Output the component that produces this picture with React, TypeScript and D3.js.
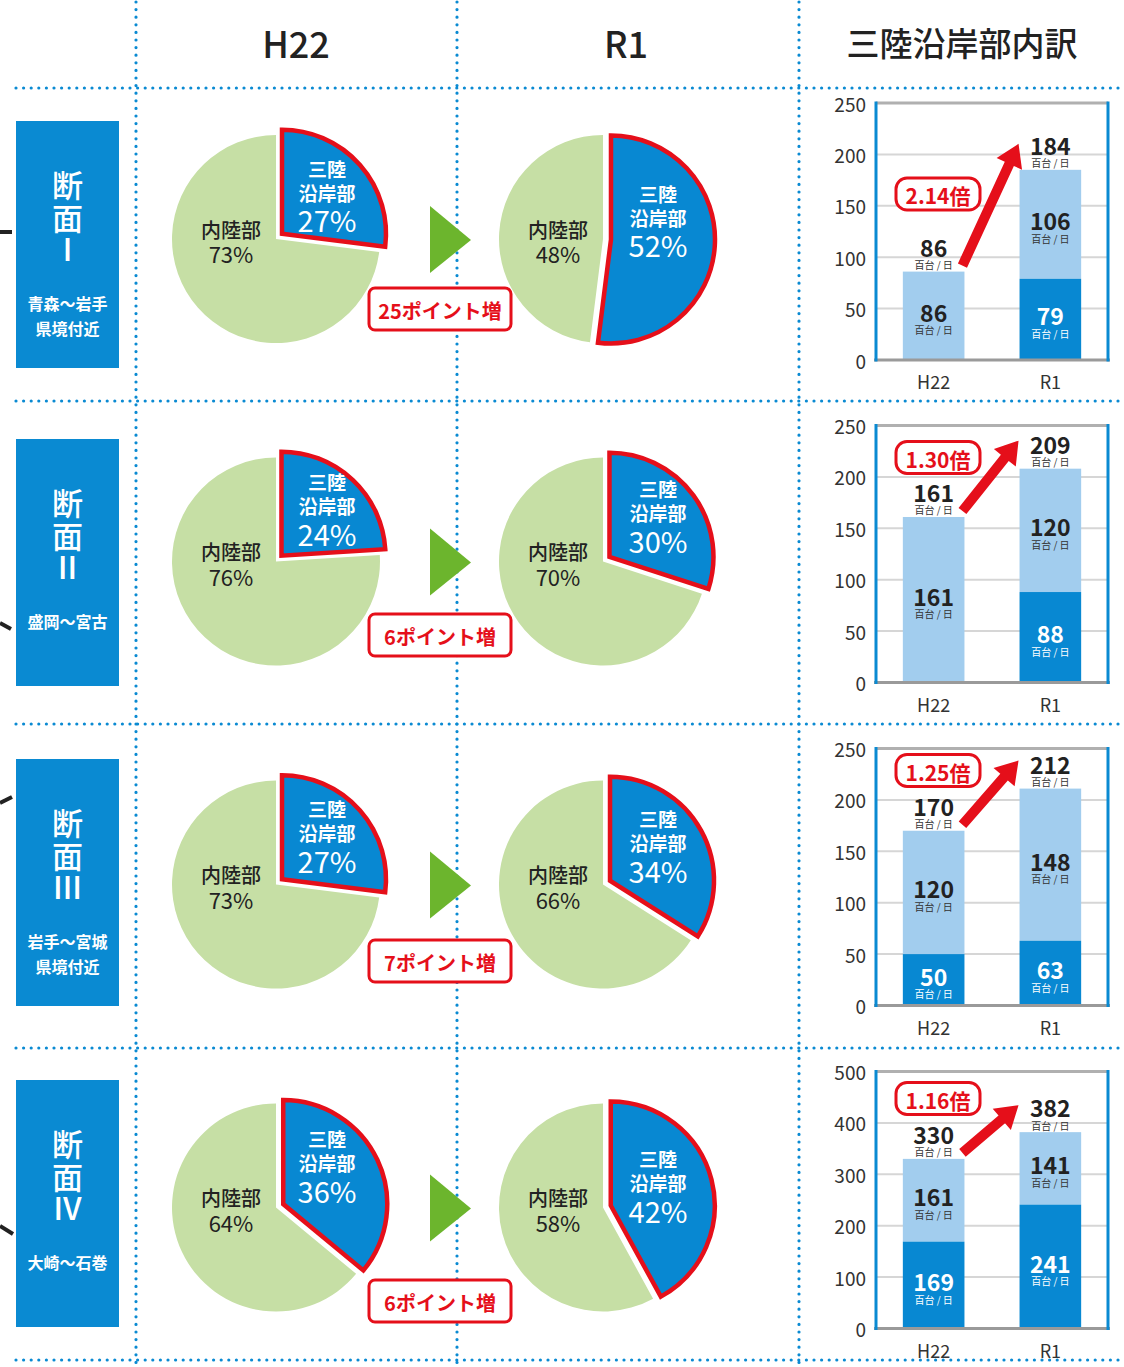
import React from "react";
import * as d3 from "d3";

// ---- data ----
const sectionNumerals = ["Ⅰ", "Ⅱ", "Ⅲ", "Ⅳ"];
const sectionAreas = [["青森～岩手", "県境付近"], ["盛岡～宮古"], ["岩手～宮城", "県境付近"], ["大崎～石巻"]];
const headerLabels = ["H22", "R1", "三陸沿岸部内訳"];
const coastalH22 = [27, 24, 27, 36];
const coastalR1 = [52, 30, 34, 42];
const pointIncrease = [25, 6, 7, 6];
const barCategories = ["H22", "R1"];
const newH22 = [0, 0, 50, 169];
const existH22 = [86, 161, 120, 161];
const newR1 = [79, 88, 63, 241];
const existR1 = [106, 120, 148, 141];
const totalH22 = [86, 161, 170, 330];
const totalR1 = [184, 209, 212, 382];
const ratioLabels = ["2.14", "1.30", "1.25", "1.16"];
const yMaxes = [250, 250, 250, 500];
const yTickSteps = [50, 50, 50, 100];

// ---- layout ----
const W = 1124, H = 1367;
const BLUE = "#0a8ad2";
const LIGHT = "#a2cdee";
const DARK = "#0888d2";
const GREEN_PIE = "#c6dfa5";
const RED = "#e50f1a";
const FONT = "'Noto Sans CJK JP', 'Noto Sans', sans-serif";
const rowOff = [0, 322.5, 645.5, 968.5];
const dividerY = [88, 401, 724, 1048, 1360];
const colX = [136, 457, 799];
const leftRectTop = [121, 439, 759, 1080];
const pointBoxY = [309, 635, 961, 1301];
const ratioBoxDy = [91, 32, 22, 27];
const blueLabelDyH22 = [-71, -80, -76, -69];
const blueLabelDyR1 = [-46, -73, -66, -49];
const leftTicks = [[0, 232, 12, 232], [0, 623, 11, 629], [0, 803, 12, 797], [0, 1226, 13, 1234]];

const R = 104;
const EXPLODE = 8;

function Pie({ cx, cy, coastal, labelDy, labelDx }) {
  const pie = d3.pie<number>().sort(null).value((d) => d);
  const arcs = pie([coastal, 100 - coastal]);
  const arc = d3.arc<any>().innerRadius(0).outerRadius(R);
  const c = arcs[0];
  const mid = (c.startAngle + c.endAngle) / 2;
  const ox = EXPLODE * Math.sin(mid);
  const oy = -EXPLODE * Math.cos(mid);
  return (
    <g>
      <path d={arc(arcs[1]) as string} transform={`translate(${cx},${cy})`} fill={GREEN_PIE} />
      <path d={arc(c) as string} transform={`translate(${cx + ox},${cy + oy})`} fill={DARK} stroke={RED} strokeWidth={4.5} strokeLinejoin="miter" />
      <g fontFamily={FONT} textAnchor="middle" fill="#fff">
        <text x={cx + labelDx} y={cy + labelDy} fontSize={19} fontWeight={700} dominantBaseline="central">三陸</text>
        <text x={cx + labelDx} y={cy + labelDy + 24} fontSize={19} fontWeight={700} dominantBaseline="central">沿岸部</text>
        <text x={cx + labelDx} y={cy + labelDy + 51} fontSize={29} fontWeight={400} dominantBaseline="central">{coastal}%</text>
      </g>
      <g fontFamily={FONT} textAnchor="middle" fill="#222">
        <text x={cx - 45} y={cy - 10} fontSize={20} fontWeight={500} dominantBaseline="central">内陸部</text>
        <text x={cx - 45} y={cy + 14} fontSize={22} fontWeight={400} dominantBaseline="central">{100 - coastal}%</text>
      </g>
    </g>
  );
}

function Arrow({ x1, y1, x2, y2 }) {
  const dx = x2 - x1, dy = y2 - y1;
  const L = Math.hypot(dx, dy);
  const ux = dx / L, uy = dy / L;
  const nx = -uy, ny = ux;
  const sw = 5, hl = 22, hw = 14;
  const bx = x2 - ux * hl, by = y2 - uy * hl;
  const pts = [
    [x1 + nx * sw, y1 + ny * sw],
    [bx + nx * sw, by + ny * sw],
    [bx + nx * hw, by + ny * hw],
    [x2, y2],
    [bx - nx * hw, by - ny * hw],
    [bx - nx * sw, by - ny * sw],
    [x1 - nx * sw, y1 - ny * sw],
  ];
  return <polygon points={pts.map((p) => p.join(",")).join(" ")} fill={RED} />;
}

function SegLabel({ x, y, value, dark }) {
  const col = dark ? "#fff" : "#222";
  return (
    <text fontFamily={FONT} textAnchor="middle" fill={col} dominantBaseline="central">
      <tspan x={x} y={y - 4} fontSize={23} fontWeight={700}>{value}</tspan>
      <tspan x={x} y={y + 13.5} fontSize={10} fontWeight={400} fill={dark ? "#fff" : "#333"}>百台 / 日</tspan>
    </text>
  );
}

function BarChart({ i }) {
  const base = 360 + rowOff[i];
  const y = d3.scaleLinear().domain([0, yMaxes[i]]).range([base, base - 257]);
  const x = d3.scaleBand().domain(barCategories).range([876, 1108]).paddingInner(0.472).paddingOuter(0.23);
  const ticks = d3.range(0, yMaxes[i] + 1, yTickSteps[i]);
  const bw = x.bandwidth();
  const stacks = [
    { cat: "H22", dark: newH22[i], light: existH22[i], total: totalH22[i] },
    { cat: "R1", dark: newR1[i], light: existR1[i], total: totalR1[i] },
  ];
  const top = y(yMaxes[i]);
  const xH = x("H22")!, xR = x("R1")!;
  const yTopH = y(totalH22[i]);
  const yTopR = y(totalR1[i]);
  return (
    <g>
      {ticks.slice(1, -1).map((t) => (
        <line key={t} x1={876} x2={1108} y1={y(t)} y2={y(t)} stroke="#d6d6d6" strokeWidth={2} />
      ))}
      <line x1={876} x2={1108} y1={top} y2={top} stroke="#b0b0b0" strokeWidth={3} />
      {ticks.map((t) => (
        <text key={t} x={866} y={y(t)} textAnchor="end" dominantBaseline="central" fontFamily={FONT} fontSize={19} fill="#333">{t}</text>
      ))}
      {stacks.map((s) => {
        const x0 = x(s.cat)!;
        return (
          <g key={s.cat}>
            <rect x={x0} width={bw} y={y(s.dark + s.light)} height={y(s.dark) - y(s.dark + s.light)} fill={LIGHT} />
            {s.dark > 0 && <rect x={x0} width={bw} y={y(s.dark)} height={y(0) - y(s.dark)} fill={DARK} />}
          </g>
        );
      })}
      <line x1={874} x2={1110} y1={base} y2={base} stroke="#9a9a9a" strokeWidth={3} />
      <line x1={876} x2={876} y1={top - 1.5} y2={base + 1.5} stroke={BLUE} strokeWidth={3} />
      <line x1={1108} x2={1108} y1={top - 1.5} y2={base + 1.5} stroke={BLUE} strokeWidth={3} />
      {stacks.map((s) => {
        const cx = x(s.cat)! + bw / 2;
        return (
          <g key={s.cat + "l"}>
            {s.dark > 0 && <SegLabel x={cx} y={(y(0) + y(s.dark)) / 2} value={s.dark} dark />}
            <SegLabel x={cx} y={(y(s.dark) + y(s.dark + s.light)) / 2} value={s.light} dark={false} />
            <SegLabel x={cx} y={y(s.dark + s.light) - 21} value={s.total} dark={false} />
          </g>
        );
      })}
      {barCategories.map((c) => (
        <text key={c} x={x(c)! + bw / 2} y={base + 21} textAnchor="middle" dominantBaseline="central" fontFamily={FONT} fontSize={18} fill="#333">{c}</text>
      ))}
      <Arrow x1={xH + bw - 2} y1={yTopH - 6} x2={xR - 1} y2={yTopR - 27} />
      <g>
        <rect x={938 - 42} y={top + ratioBoxDy[i] - 16} width={84} height={32} rx={11} fill="#fff" stroke={RED} strokeWidth={3} />
        <text x={938} y={top + ratioBoxDy[i] + 1} textAnchor="middle" dominantBaseline="central" fontFamily={FONT} fontSize={21} fontWeight={700} fill={RED}>{ratioLabels[i]}倍</text>
      </g>
    </g>
  );
}

export default function App() {
  return (
    <svg width={W} height={H} viewBox={`0 0 ${W} ${H}`} style={{ position: "absolute", left: 0, top: 0, display: "block", background: "#fff" }}>
      <rect width={W} height={H} fill="#fff" />
      {/* grid dotted lines */}
      <g stroke={BLUE} strokeWidth={3.2} strokeLinecap="round" strokeDasharray="0 7.6">
        {dividerY.map((yy) => (
          <line key={yy} x1={16} x2={W} y1={yy} y2={yy} />
        ))}
        {colX.map((xx) => (
          <line key={xx} x1={xx} x2={xx} y1={2} y2={H} />
        ))}
      </g>
      {/* headers */}
      <g fontFamily={FONT} textAnchor="middle" fill="#222" dominantBaseline="central">
        <text x={296} y={42} fontSize={36} fontWeight={500}>{headerLabels[0]}</text>
        <text x={626} y={42} fontSize={36} fontWeight={500}>{headerLabels[1]}</text>
        <text x={962} y={42} fontSize={33} fontWeight={500}>{headerLabels[2]}</text>
      </g>
      {/* left ticks */}
      {leftTicks.map((t, i) => (
        <line key={i} x1={t[0]} y1={t[1]} x2={t[2]} y2={t[3]} stroke="#222" strokeWidth={4} />
      ))}
      {sectionNumerals.map((num, i) => {
        const top = leftRectTop[i];
        const cyp = 239 + rowOff[i];
        return (
          <g key={i}>
            {/* left label */}
            <rect x={16} y={top} width={103} height={247} fill={BLUE} />
            <g fontFamily={FONT} textAnchor="middle" fill="#fff" dominantBaseline="central">
              <text x={67.5} y={top + 62} fontSize={31} fontWeight={500}>断</text>
              <text x={67.5} y={top + 95} fontSize={31} fontWeight={500}>面</text>
              <text x={67.5} y={top + 126} fontSize={31} fontWeight={500}>{num}</text>
              {sectionAreas[i].map((s, j) => (
                <text key={j} x={67.5} y={top + 182 + j * 25} fontSize={16} fontWeight={700}>{s}</text>
              ))}
            </g>
            {/* pies */}
            <Pie cx={276} cy={cyp} coastal={coastalH22[i]} labelDy={blueLabelDyH22[i]} labelDx={51} />
            <Pie cx={603} cy={cyp} coastal={coastalR1[i]} labelDy={blueLabelDyR1[i]} labelDx={55} />
            {/* triangle */}
            <polygon points={`430,${cyp - 33} 471,${cyp + 1} 430,${cyp + 34}`} fill="#6cb52d" />
            {/* point box */}
            <rect x={369} y={pointBoxY[i] - 21} width={142} height={42} rx={6} fill="#fff" stroke={RED} strokeWidth={3} />
            <text x={440} y={pointBoxY[i] + 1} textAnchor="middle" dominantBaseline="central" fontFamily={FONT} fontSize={20} fontWeight={700} fill={RED}>{pointIncrease[i]}ポイント増</text>
            <BarChart i={i} />
          </g>
        );
      })}
    </svg>
  );
}
